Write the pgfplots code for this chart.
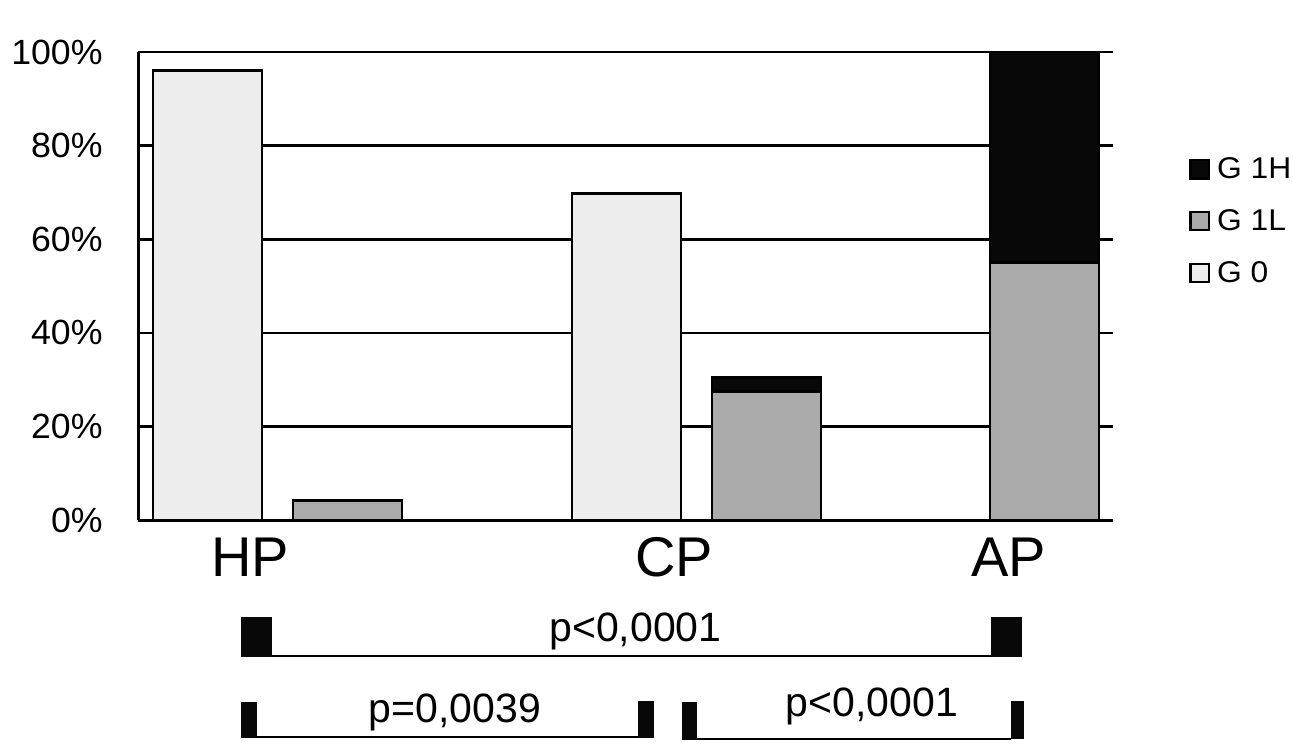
\documentclass[border=0pt]{standalone}
\usepackage{fontspec}
\setmainfont{Liberation Sans}
\newfontfamily\tickfont[FakeStretch=1.02]{Liberation Sans}
\newfontfamily\legfont[FakeStretch=1.06]{Liberation Sans}
\newcommand\ticksize{\tickfont\fontsize{17.5bp}{20bp}\selectfont}
\newcommand\legsize{\legfont\fontsize{15bp}{17bp}\selectfont}
\newcommand\catsize{\fontsize{28bp}{32bp}\selectfont}
\newcommand\psize{\fontsize{20.5bp}{24bp}\selectfont}
\usepackage{pgfplots}
\usepackage{pgfplotstable}
\pgfplotsset{compat=1.18}
\definecolor{gzero}{RGB}{236,237,236}
\definecolor{gonel}{RGB}{170,170,170}
\definecolor{goneh}{RGB}{8,8,8}
\pgfplotstableread{
x      g0    g1l   g1h
207.5  96.0  0     0
347.5  0     4.1   0
626.5  69.7  0     0
766.5  0     27.4  3.1
1044.5 0     55.1  44.9
}\datatable
\begin{document}
\begin{tikzpicture}
\begin{axis}[
  at={(69bp,-260bp)}, anchor=south west,
  scale only axis, width=487.5bp, height=234bp,
  xmin=138, xmax=1113, ymin=0, ymax=100,
  ybar stacked, bar width=109,
  axis x line*=bottom, axis y line*=left,
  axis line style={line width=1.5bp, -},
  xtick=\empty,
  ytick={0,20,40,60,80,100},
  yticklabels={0\%,20\%,40\%,60\%,80\%,100\%},
  major tick length=0pt,
  ymajorgrids, grid style={black, line width=1.3bp},
  yticklabel style={font=\ticksize, anchor=east, inner sep=0pt, xshift=-17.5bp},
  clip=false,
  every axis plot/.append style={draw=black, line width=1.4bp},
  reverse legend,
  legend style={at={(1.078,0.776)}, anchor=north west, draw=none, fill=none,
    inner sep=0pt, row sep=14bp,
    nodes={inner sep=0pt},
    /tikz/every odd column/.append style={column sep=3.5bp}},
  legend cell align=left,
  legend image code/.code={\draw[#1, draw=black, line width=1.1bp] (0bp,-4.6bp) rectangle (9.2bp,4.6bp);},
]
\addplot[fill=gzero] table[x=x, y=g0] {\datatable};
\addplot[fill=gonel] table[x=x, y=g1l] {\datatable};
\addplot[fill=goneh] table[x=x, y=g1h] {\datatable};
\legend{{\legsize G 0}, {\legsize G 1L}, {\legsize G 1H}}
\end{axis}
\begin{scope}[x=0.5bp, y=-0.5bp]
  \node[anchor=base, inner sep=0pt, font=\catsize] at (250,577) {HP};
  \node[anchor=base, inner sep=0pt, font=\catsize] at (674,577) {CP};
  \node[anchor=base, inner sep=0pt, font=\catsize] at (1009,577) {AP};
  % row 1
  \fill[goneh] (240.7,617) rectangle (271.7,657.5);
  \fill[goneh] (990.7,617) rectangle (1021.7,657.5);
  \draw[line width=1bp] (271.7,656.5) -- (990.7,656.5);
  \node[anchor=base, inner sep=0pt, font=\psize] at (635.5,642) {p<0,0001};
  % row 2 left
  \fill[goneh] (240.7,701.7) rectangle (256.7,738);
  \fill[goneh] (638,701) rectangle (654,738);
  \draw[line width=1bp] (256.7,737) -- (638,737);
  \node[anchor=base, inner sep=0pt, font=\psize] at (455,723) {p=0,0039};
  % row 2 right
  \fill[goneh] (682,702) rectangle (697,740);
  \fill[goneh] (1010.7,701) rectangle (1024,739.5);
  \draw[line width=1bp] (697,739) -- (1010.7,739);
  \node[anchor=base, inner sep=0pt, font=\psize] at (872,717) {p<0,0001};
\end{scope}
\pgfresetboundingbox
\path[use as bounding box] (0,0) rectangle (646.5bp,-375.5bp);
\end{tikzpicture}
\end{document}
